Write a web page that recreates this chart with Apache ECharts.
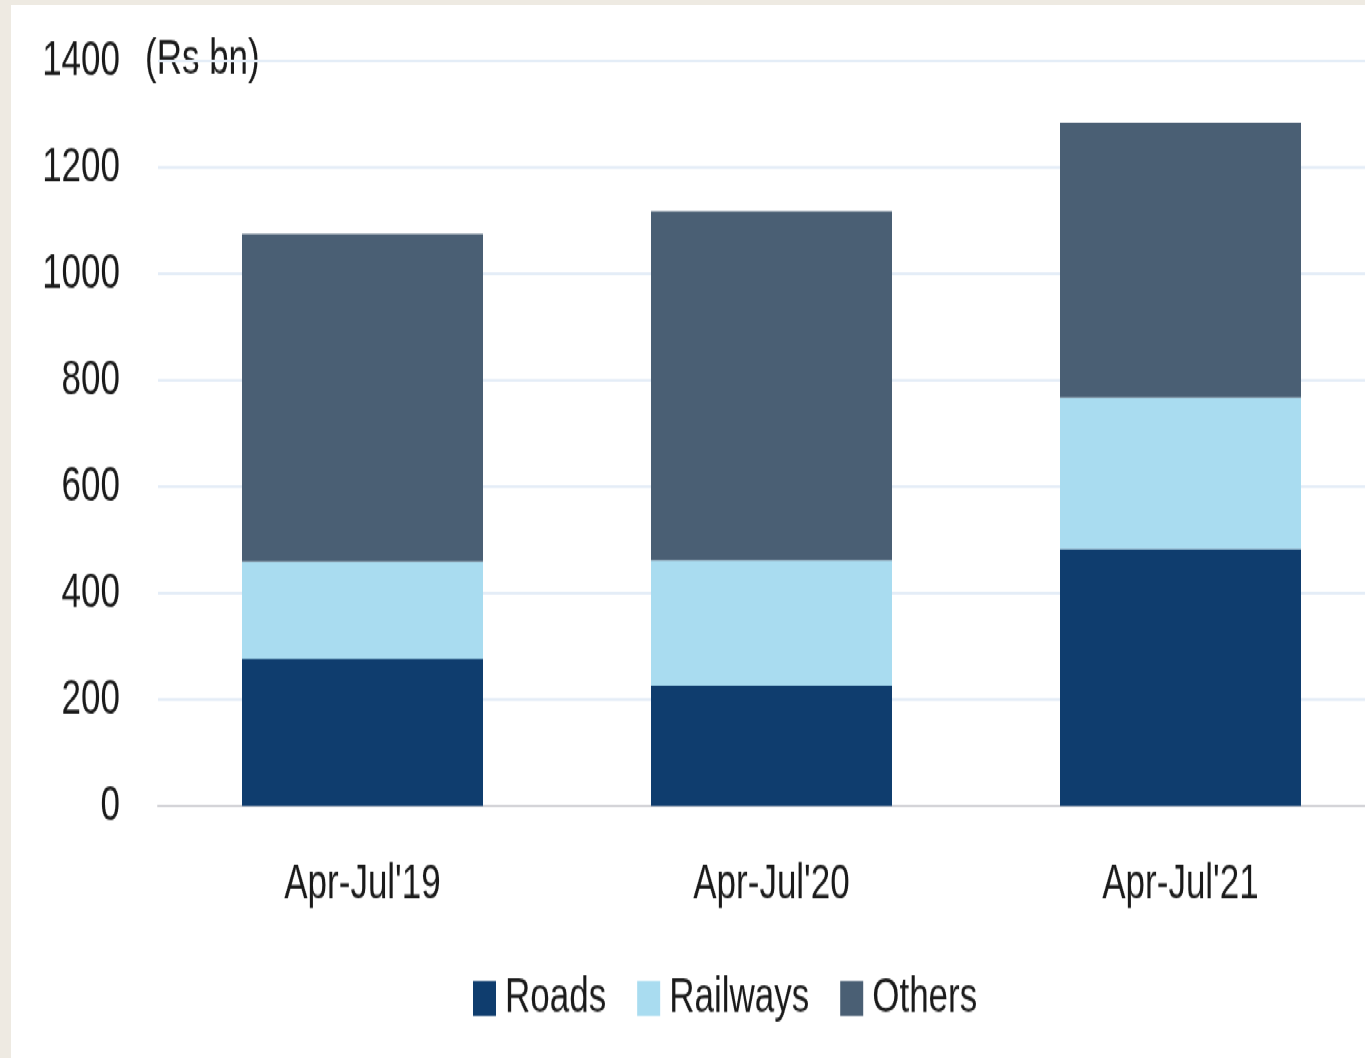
<!DOCTYPE html>
<html>
<head>
<meta charset="utf-8">
<script src="https://cdn.jsdelivr.net/npm/echarts@6/dist/echarts.min.js"></script>
<style>
  html, body { margin: 0; padding: 0; width: 1365px; height: 1058px; overflow: hidden; background: #eeeae2; }
  /* the reference text is tall and narrow, so the chart is drawn short and stretched vertically */
  #chart { position: absolute; left: 11px; top: 5px; width: 1380px; height: 752px; background: #fff;
           transform: scaleY(1.4003); transform-origin: 0 0; }
</style>
</head>
<body>
<div id="chart"></div>
<script>
const categories = ["Apr-Jul'19", "Apr-Jul'20", "Apr-Jul'21"]
const roads = [276, 226, 483]
const railways = [183, 236, 284]
const others = [616, 656, 517]
const yTicks = [0, 200, 400, 600, 800, 1000, 1200, 1400]

const font = "'Liberation Sans', Arial, sans-serif"
const textColor = '#1a1a1a'
const fs = 35

const chart = echarts.init(document.getElementById('chart'))

function bar(name, data, color) {
  return {
    name,
    type: 'bar',
    stack: 'total',
    data,
    barWidth: 241,
    itemStyle: { color }
  }
}

chart.setOption({
  animation: false,
  textStyle: { fontFamily: font },
  grid: { left: 147, top: 40, right: 6, bottom: 180, containLabel: false, outerBoundsMode: 'none' },
  legend: {
    left: 457,
    top: 687,
    itemWidth: 23,
    itemHeight: 25,
    itemGap: 31,
    icon: 'rect',
    textStyle: { fontFamily: font, fontSize: fs, color: textColor, padding: [0, 0, 0, 4] },
    data: ['Roads', 'Railways', 'Others']
  },
  xAxis: {
    type: 'category',
    data: categories,
    axisLine: { lineStyle: { color: '#d4d4d8', width: 2 } },
    axisTick: { show: false },
    axisLabel: { color: textColor, fontSize: fs, fontFamily: font, margin: 39 }
  },
  yAxis: {
    type: 'value',
    min: yTicks[0],
    max: yTicks[yTicks.length - 1],
    interval: 200,
    axisLine: { show: false },
    axisTick: { show: false },
    axisLabel: { color: textColor, fontSize: fs, fontFamily: font, margin: 38, formatter: v => String(v) },
    splitLine: { lineStyle: { color: '#e4edf7', width: 2 } }
  },
  graphic: [{
    type: 'text',
    left: 134,
    top: 22,
    style: { text: '(Rs bn)', font: fs + 'px ' + font, fill: textColor }
  }],
  series: [
    bar('Roads', roads, '#0f3d6e'),
    bar('Railways', railways, '#a9dcf0'),
    bar('Others', others, '#4a5f74')
  ]
})
</script>
</body>
</html>
